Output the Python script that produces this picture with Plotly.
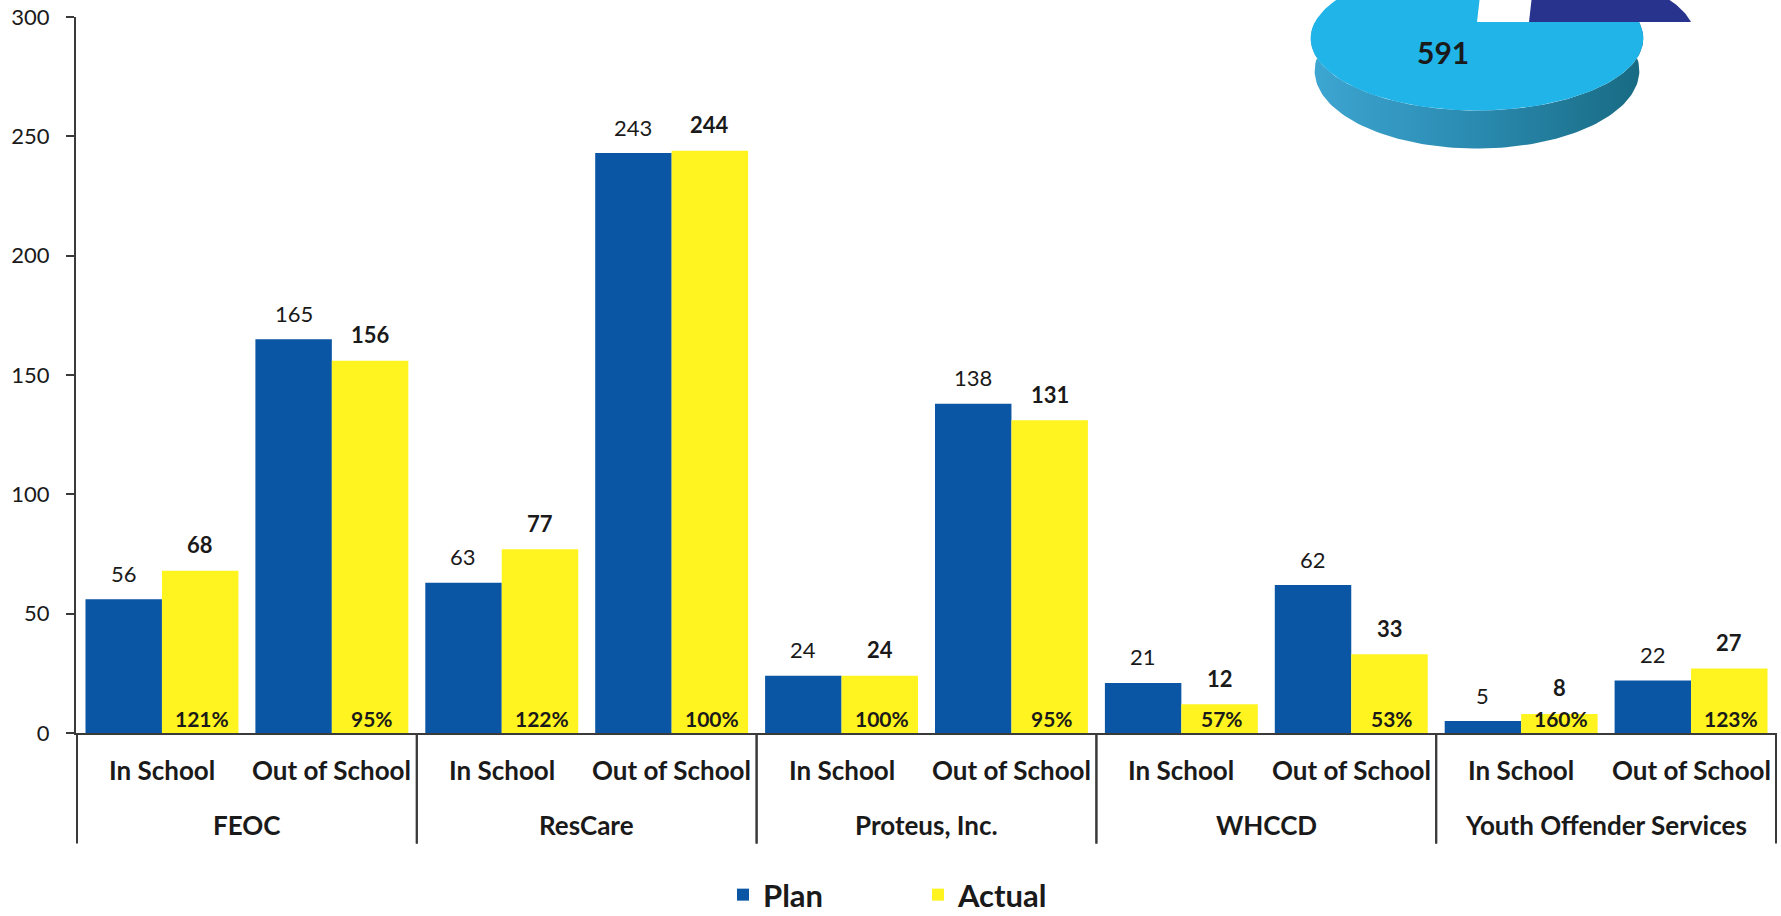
import numpy as np
import plotly.graph_objects as go

# ---------------- data ----------------
providers = ["FEOC", "FEOC", "ResCare", "ResCare", "Proteus, Inc.", "Proteus, Inc.",
             "WHCCD", "WHCCD", "Youth Offender Services", "Youth Offender Services"]
segments = ["In School", "Out of School"] * 5
plan = [56, 165, 63, 243, 24, 138, 21, 62, 5, 22]
actual = [68, 156, 77, 244, 24, 131, 12, 33, 8, 27]
y_ticks = [0, 50, 100, 150, 200, 250, 300]
pie_labels = ["In School", "Out of School"]
pie_values = [sum(actual[0::2]), sum(actual[1::2])]   # 189, 591
pct = [f"{round(a / p * 100)}%" for a, p in zip(actual, plan)]

# ---------------- style ----------------
W, H = 1781, 916
ML, MR, MT, MB = 76, 4, 0, 183
PW, PH = W - ML - MR, H - MT - MB
TOP_PAD = 17
BLUE = "#0B55A5"
YELLOW = "#FFF41F"
TXT = "#1a1a1a"
AX = "#3a3a3a"
FONT = "Lato"

fig = go.Figure()
fig.add_trace(go.Bar(name="Plan", x=[providers, segments], y=plan,
                     marker=dict(color=BLUE, line=dict(width=0)), hoverinfo="y"))
fig.add_trace(go.Bar(name="Actual", x=[providers, segments], y=actual,
                     marker=dict(color=YELLOW, line=dict(width=0)), hoverinfo="y"))

# bar label annotations (positioned through the axes' scales)
cat_w = PW / len(plan)
bargap = 0.1
half = cat_w * (1 - bargap) / 4
ann = []
for i, (p, a) in enumerate(zip(plan, actual)):
    ann.append(dict(x=i, y=p, xref="x", yref="y", text=str(p), showarrow=False,
                    xshift=-half, yshift=26, yanchor="middle",
                    font=dict(family=FONT, size=22, color=TXT)))
    ann.append(dict(x=i, y=a, xref="x", yref="y", text=f"<b>{a}</b>", showarrow=False,
                    xshift=half, yshift=26, yanchor="middle",
                    font=dict(family=FONT, size=22, color=TXT)))
    ann.append(dict(x=i, y=0, xref="x", yref="y", text=f"<b>{pct[i]}</b>", showarrow=False,
                    xshift=half + 2, yshift=15, yanchor="middle",
                    font=dict(family=FONT, size=21, color=TXT)))

# two-level category labels under the axis, and group dividers
INNER_DY, OUTER_DY, DIV_LEN = 37, 92, 108
for i, s in enumerate(segments):
    ann.append(dict(x=i, y=0, xref="x", yref="paper", text=f"<b>{s}</b>", showarrow=False,
                    yshift=-INNER_DY, yanchor="middle",
                    font=dict(family=FONT, size=26, color=TXT)))
groups = list(dict.fromkeys(providers))
shapes = []
for g in groups:
    idx = [i for i, p in enumerate(providers) if p == g]
    ann.append(dict(x=(idx[0] + idx[-1]) / 2, y=0, xref="x", yref="paper", text=f"<b>{g}</b>",
                    showarrow=False, yshift=-OUTER_DY, yanchor="middle",
                    font=dict(family=FONT, size=26, color=TXT)))
    for edge in (idx[0] - 0.5, idx[-1] + 0.5):
        shapes.append(dict(type="line", xref="x", yref="paper", x0=edge, x1=edge,
                           y0=0, y1=-DIV_LEN / (PH - TOP_PAD),
                           line=dict(color=AX, width=2)))

# ---------------- 3D-looking pie (top right, cut off) ----------------
cx, cy = 1477.0, 22.0
F, D, phi, hgt = 648.0, 4.0, np.radians(25), 0.22
shift = (52.0, 0.0)


def proj(theta_deg, Y=0.0):
    t = np.radians(np.asarray(theta_deg, dtype=float))
    X, Z = np.cos(t), np.sin(t)
    yc = Y * np.cos(phi) + Z * np.sin(phi)
    dc = D + Z * np.cos(phi) - Y * np.sin(phi)
    return cx + F * X / dc, cy - F * yc / dc


total = sum(pie_values)
split = 360.0 * pie_values[0] / total      # end angle of "In School" slice

th_front = np.linspace(180, 360, 120)
tx, ty = proj(th_front)
bx, by = proj(th_front[::-1], Y=-hgt)
fig.add_trace(go.Scatter(x=np.r_[tx, bx], y=np.r_[ty, by], xaxis="x2", yaxis="y2",
                         mode="lines", line=dict(width=0), fill="toself",
                         fillgradient=dict(type="horizontal",
                                           colorscale=[[0, "#3DA6D2"], [0.5, "#2A8AB0"], [1, "#186A82"]]),
                         hoverinfo="skip", showlegend=False))
th_big = np.linspace(split, 360, 200)
px, py = proj(th_big)
fig.add_trace(go.Scatter(x=np.r_[cx, px, cx], y=np.r_[cy, py, cy], xaxis="x2", yaxis="y2",
                         mode="lines", line=dict(width=0), fill="toself", fillcolor="#20B4E8",
                         name=pie_labels[1], hoverinfo="skip", showlegend=False))
th_small = np.linspace(0, split, 80)
sx, sy = proj(th_small)
fig.add_trace(go.Scatter(x=np.r_[cx, sx, cx] + shift[0], y=np.r_[cy, sy, cy] + shift[1],
                         xaxis="x2", yaxis="y2",
                         mode="lines", line=dict(width=0), fill="toself", fillcolor="#27338D",
                         name=pie_labels[0], hoverinfo="skip", showlegend=False))
ann.append(dict(x=1443, y=52, xref="x2", yref="y2", text=f"<b>{pie_values[1]}</b>",
                showarrow=False, font=dict(family=FONT, size=30, color=TXT)))

fig.update_layout(
    width=W, height=H,
    margin=dict(l=ML, r=MR, t=MT, b=MB, autoexpand=False),
    paper_bgcolor="white", plot_bgcolor="rgba(0,0,0,0)",
    barmode="group", bargap=bargap, bargroupgap=0,
    font=dict(family=FONT, color=TXT),
    xaxis=dict(type="multicategory", showline=True, linecolor=AX, linewidth=2,
               ticks="", showticklabels=False, showdividers=False,
               automargin=False, showgrid=False, zeroline=False),
    yaxis=dict(domain=[0, 1 - TOP_PAD / PH], range=[0, 300], tickvals=y_ticks,
               ticks="outside", ticklen=8, tickwidth=2, tickcolor=AX,
               showline=True, linecolor=AX, linewidth=2, showgrid=False, zeroline=False,
               tickfont=dict(family=FONT, size=22, color=TXT), ticklabelstandoff=12,
               automargin=False),
    xaxis2=dict(domain=[0, 1], range=[ML, W - MR], anchor="y2", visible=False, fixedrange=True),
    yaxis2=dict(domain=[0, 1], range=[PH, 0], anchor="x2", visible=False, fixedrange=True),
    legend=dict(orientation="h", x=(723 - ML) / PW, xanchor="left",
                y=(PH - 895 + MT) / PH, yanchor="middle",
                font=dict(family=FONT, size=31, color=TXT, weight="bold"),
                entrywidth=150, bgcolor="rgba(0,0,0,0)"),
    annotations=ann,
    shapes=shapes,
    showlegend=True,
)

fig.write_html("out.html")
